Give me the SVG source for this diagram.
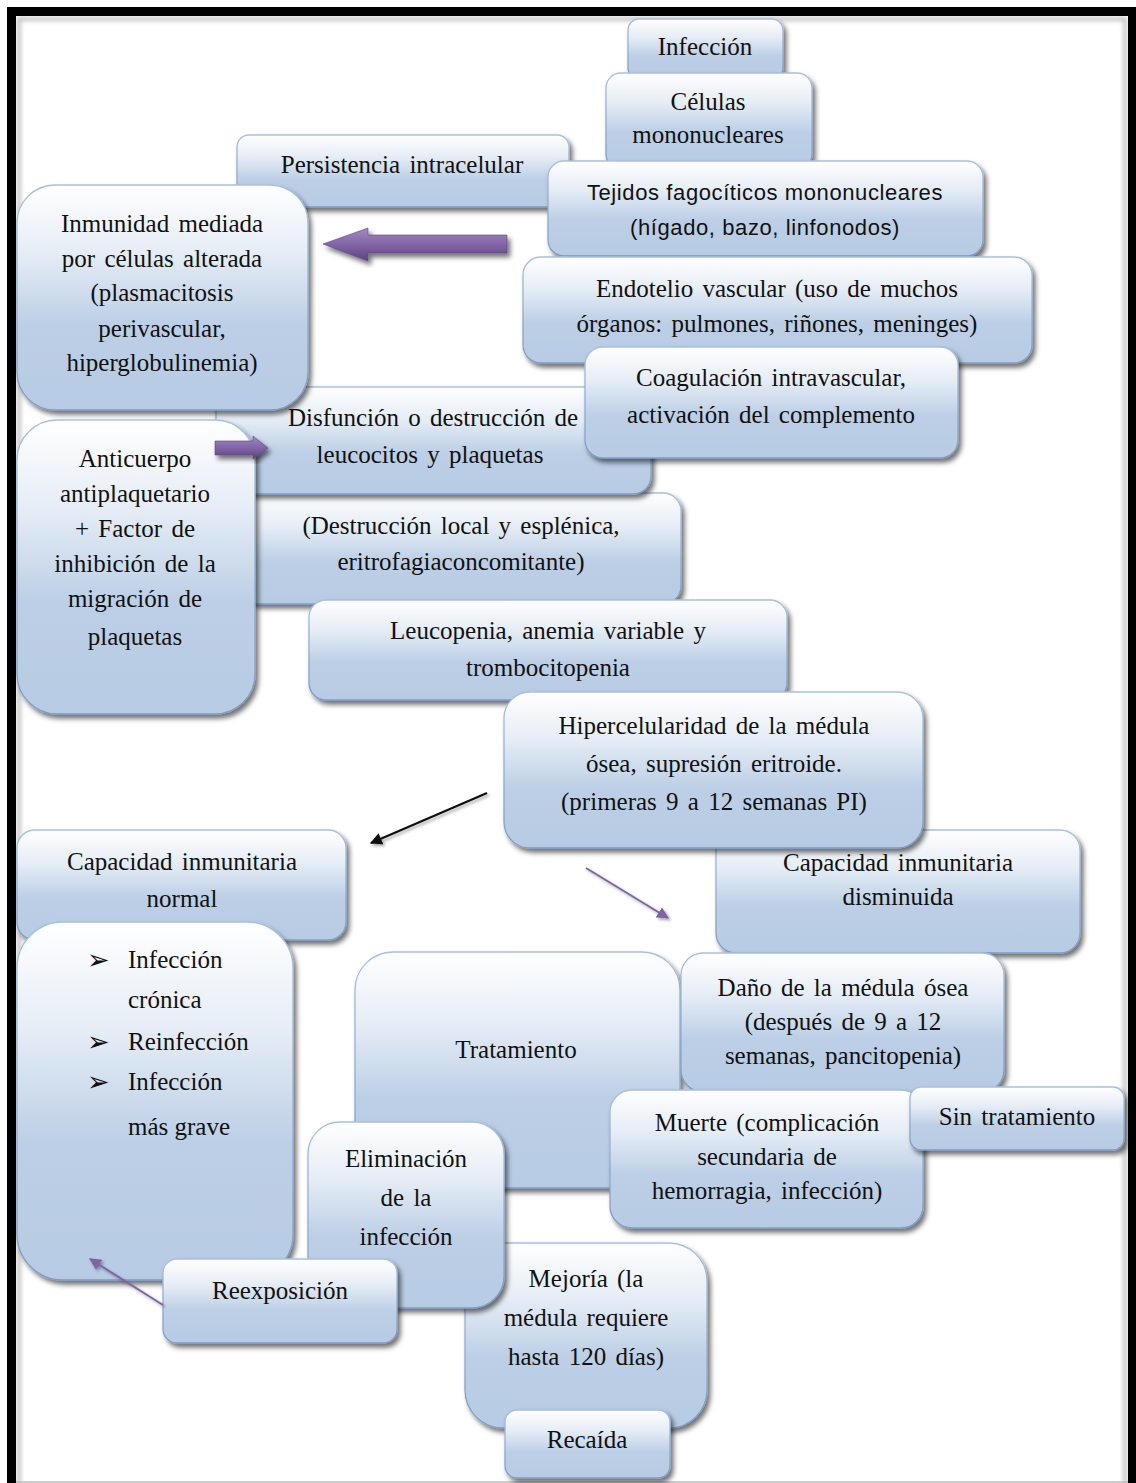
<svg xmlns="http://www.w3.org/2000/svg" width="1136" height="1483" viewBox="0 0 1136 1483">
  <defs>
    <linearGradient id="boxFill" x1="0" y1="0" x2="0" y2="1">
      <stop offset="0" stop-color="#ffffff"/>
      <stop offset="0.3" stop-color="#e6edf6"/>
      <stop offset="0.62" stop-color="#bccfe6"/>
      <stop offset="1" stop-color="#b7cbe4"/>
    </linearGradient>
    <linearGradient id="boxEdge" x1="0" y1="0" x2="0" y2="1">
      <stop offset="0" stop-color="#a9c0de"/>
      <stop offset="1" stop-color="#7e9bc4"/>
    </linearGradient>
    <linearGradient id="purpleFill" x1="0" y1="0" x2="0" y2="1">
      <stop offset="0" stop-color="#a088c2"/>
      <stop offset="0.55" stop-color="#7f62a3"/>
      <stop offset="1" stop-color="#5a4380"/>
    </linearGradient>
    <filter id="shadow" x="-10%" y="-10%" width="125%" height="130%">
      <feDropShadow dx="3" dy="4" stdDeviation="2.6" flood-color="#000" flood-opacity="0.55"/>
    </filter>
    <filter id="lineShadow" x="-10%" y="-10%" width="130%" height="140%">
      <feDropShadow dx="2" dy="2" stdDeviation="1.5" flood-color="#000" flood-opacity="0.35"/>
    </filter>
    <filter id="soft" x="-5%" y="-5%" width="110%" height="110%">
      <feGaussianBlur stdDeviation="2"/>
    </filter>
    <marker id="headBlack" viewBox="0 0 10 10" refX="9" refY="5" markerWidth="6" markerHeight="6" orient="auto" markerUnits="strokeWidth">
      <path d="M0,0 L10,5 L0,10 z" fill="#111"/>
    </marker>
    <marker id="headPurple" viewBox="0 0 10 10" refX="9" refY="5" markerWidth="6" markerHeight="6" orient="auto" markerUnits="strokeWidth">
      <path d="M0,0 L10,5 L0,10 z" fill="#8064a2"/>
    </marker>
  </defs>
  <style>
    .box { fill: url(#boxFill); stroke: url(#boxEdge); stroke-width: 1.3; filter: url(#shadow); }
    .t { font-family: "Liberation Serif", "Times New Roman", serif; font-size: 25px; fill: #111; text-anchor: middle; word-spacing: 3px; }
    .s { font-family: "Liberation Sans", Arial, sans-serif; font-size: 22px; fill: #111; text-anchor: middle; letter-spacing: 0.6px; }
    .l { font-family: "Liberation Serif", "Times New Roman", serif; font-size: 25px; fill: #111; }
    .b { font-family: "DejaVu Sans", sans-serif; font-size: 27px; fill: #111; }
    .block { fill: url(#purpleFill); stroke: #5d4682; stroke-width: 0.6; filter: url(#shadow); }
  </style>

  <!-- page background and frame -->
  <rect x="0" y="0" width="1136" height="1483" fill="#ffffff"/>
  <rect x="19" y="19" width="1106" height="1480" fill="none" stroke="#9a9a9a" stroke-width="4" opacity="0.6" filter="url(#soft)"/>
  <line x1="16" y1="1482" x2="1128" y2="1482" stroke="#bdbdbd" stroke-width="1.5"/>
  <rect x="11.5" y="11.5" width="1121" height="1500" fill="none" stroke="#000" stroke-width="9"/>

  <g id="nodes">
    <g id="n-infeccion">
      <rect class="box" x="628" y="19" width="155" height="60" rx="11"/>
      <text class="t" x="705" y="55">Infección</text>
    </g>
    <g id="n-celulas">
      <rect class="box" x="606" y="73" width="206" height="96" rx="15"/>
      <text class="t" x="708" y="110">Células</text>
      <text class="t" x="708" y="143">mononucleares</text>
    </g>
    <g id="n-persistencia">
      <rect class="box" x="237" y="135" width="332" height="72" rx="12"/>
      <text class="t" x="402" y="173">Persistencia  intracelular</text>
    </g>
    <g id="n-tejidos">
      <rect class="box" x="548" y="161" width="435" height="95" rx="16"/>
      <text class="s" x="765" y="200">Tejidos fagocíticos mononucleares</text>
      <text class="s" x="765" y="235">(hígado, bazo, linfonodos)</text>
    </g>
    <g id="n-endotelio">
      <rect class="box" x="523" y="257" width="509" height="106" rx="18"/>
      <text class="t" x="777" y="297">Endotelio  vascular  (uso de muchos</text>
      <text class="t" x="777" y="332">órganos:  pulmones,  riñones,  meninges)</text>
    </g>
    <g id="n-destruccion">
      <rect class="box" x="241" y="493" width="440" height="111" rx="18"/>
      <text class="t" x="461" y="534">(Destrucción  local y esplénica,</text>
      <text class="t" x="461" y="570">eritrofagiaconcomitante)</text>
    </g>
    <g id="n-disfuncion">
      <rect class="box" x="216" y="387" width="435" height="107" rx="18"/>
      <text class="t" x="433" y="426">Disfunción  o destrucción  de</text>
      <text class="t" x="430" y="463">leucocitos  y plaquetas</text>
    </g>
    <g id="n-inmunidad">
      <rect class="box" x="17" y="185" width="291" height="225" rx="38"/>
      <text class="t" x="162" y="232">Inmunidad  mediada</text>
      <text class="t" x="162" y="267">por células  alterada</text>
      <text class="t" x="162" y="301">(plasmacitosis</text>
      <text class="t" x="162" y="337">perivascular,</text>
      <text class="t" x="162" y="371">hiperglobulinemia)</text>
    </g>
    <g id="n-coagulacion">
      <rect class="box" x="585" y="347" width="373" height="111" rx="18"/>
      <text class="t" x="771" y="386">Coagulación  intravascular,</text>
      <text class="t" x="771" y="423">activación  del complemento</text>
    </g>
    <g id="n-anticuerpo">
      <rect class="box" x="17" y="420" width="238" height="294" rx="40"/>
      <text class="t" x="135" y="467">Anticuerpo</text>
      <text class="t" x="135" y="502">antiplaquetario</text>
      <text class="t" x="135" y="537">+  Factor de</text>
      <text class="t" x="135" y="572">inhibición  de la</text>
      <text class="t" x="135" y="607">migración  de</text>
      <text class="t" x="135" y="645">plaquetas</text>
    </g>
    <g id="n-leucopenia">
      <rect class="box" x="309" y="600" width="478" height="100" rx="17"/>
      <text class="t" x="548" y="639">Leucopenia,  anemia  variable  y</text>
      <text class="t" x="548" y="676">trombocitopenia</text>
    </g>
    <g id="n-capacidad-disminuida">
      <rect class="box" x="716" y="830" width="364" height="123" rx="20"/>
      <text class="t" x="898" y="871">Capacidad inmunitaria</text>
      <text class="t" x="898" y="905">disminuida</text>
    </g>
    <g id="n-hipercelularidad">
      <rect class="box" x="504" y="692" width="419" height="156" rx="26"/>
      <text class="t" x="714" y="734">Hipercelularidad  de la médula</text>
      <text class="t" x="714" y="772">ósea, supresión  eritroide.</text>
      <text class="t" x="714" y="810">(primeras  9 a 12 semanas  PI)</text>
    </g>
    <g id="n-capacidad-normal">
      <rect class="box" x="17" y="830" width="329" height="110" rx="18"/>
      <text class="t" x="182" y="870">Capacidad inmunitaria</text>
      <text class="t" x="182" y="907">normal</text>
    </g>
    <g id="n-consecuencias">
      <rect class="box" x="17" y="922" width="276" height="358" rx="46"/>
      <text class="b" x="87" y="969">➢</text>
      <text class="l" x="128" y="968">Infección</text>
      <text class="l" x="128" y="1008">crónica</text>
      <text class="b" x="87" y="1051">➢</text>
      <text class="l" x="128" y="1050">Reinfección</text>
      <text class="b" x="87" y="1091">➢</text>
      <text class="l" x="128" y="1090">Infección</text>
      <text class="l" x="128" y="1135">más grave</text>
    </g>
    <g id="n-tratamiento">
      <rect class="box" x="355" y="952" width="325" height="236" rx="38"/>
      <text class="t" x="516" y="1058">Tratamiento</text>
    </g>
    <g id="n-dano">
      <rect class="box" x="681" y="953" width="323" height="139" rx="22"/>
      <text class="t" x="843" y="996">Daño de la médula  ósea</text>
      <text class="t" x="843" y="1030">(después  de 9 a 12</text>
      <text class="t" x="843" y="1064">semanas,  pancitopenia)</text>
    </g>
    <g id="n-muerte">
      <rect class="box" x="610" y="1090" width="313" height="138" rx="22"/>
      <text class="t" x="767" y="1131">Muerte (complicación</text>
      <text class="t" x="767" y="1165">secundaria  de</text>
      <text class="t" x="767" y="1199">hemorragia,  infección)</text>
    </g>
    <g id="n-sin-tratamiento">
      <rect class="box" x="910" y="1087" width="214" height="63" rx="11"/>
      <text class="t" x="1017" y="1125">Sin tratamiento</text>
    </g>
    <g id="n-mejoria">
      <rect class="box" x="465" y="1243" width="242" height="185" rx="38"/>
      <text class="t" x="586" y="1287">Mejoría  (la</text>
      <text class="t" x="586" y="1326">médula  requiere</text>
      <text class="t" x="586" y="1365">hasta  120 días)</text>
    </g>
    <g id="n-eliminacion">
      <rect class="box" x="308" y="1122" width="196" height="186" rx="32"/>
      <text class="t" x="406" y="1167">Eliminación</text>
      <text class="t" x="406" y="1206">de la</text>
      <text class="t" x="406" y="1245">infección</text>
    </g>
    <g id="n-reexposicion">
      <rect class="box" x="163" y="1259" width="234" height="84" rx="14"/>
      <text class="t" x="280" y="1299">Reexposición</text>
    </g>
    <g id="n-recaida">
      <rect class="box" x="505" y="1410" width="165" height="68" rx="12"/>
      <text class="t" x="587" y="1448">Recaída</text>
    </g>
  </g>

  <g id="connectors">
    <!-- block arrow: endothelium level towards cell-mediated immunity -->
    <polygon class="block" points="507,235 368,235 368,228 323,244 368,261 368,253 507,253"/>
    <!-- block arrow: antibody into leukocyte dysfunction -->
    <polygon class="block" points="215,441 253,441 253,436 268,448 253,459 253,455 215,455"/>
    <!-- thin arrows -->
    <line x1="487" y1="793" x2="371" y2="843" stroke="#111" stroke-width="2" marker-end="url(#headBlack)" filter="url(#lineShadow)"/>
    <line x1="586" y1="868" x2="668" y2="918" stroke="#8064a2" stroke-width="2" marker-end="url(#headPurple)" filter="url(#lineShadow)"/>
    <line x1="163" y1="1305" x2="90" y2="1259" stroke="#8064a2" stroke-width="2" marker-end="url(#headPurple)" filter="url(#lineShadow)"/>
  </g>
</svg>
